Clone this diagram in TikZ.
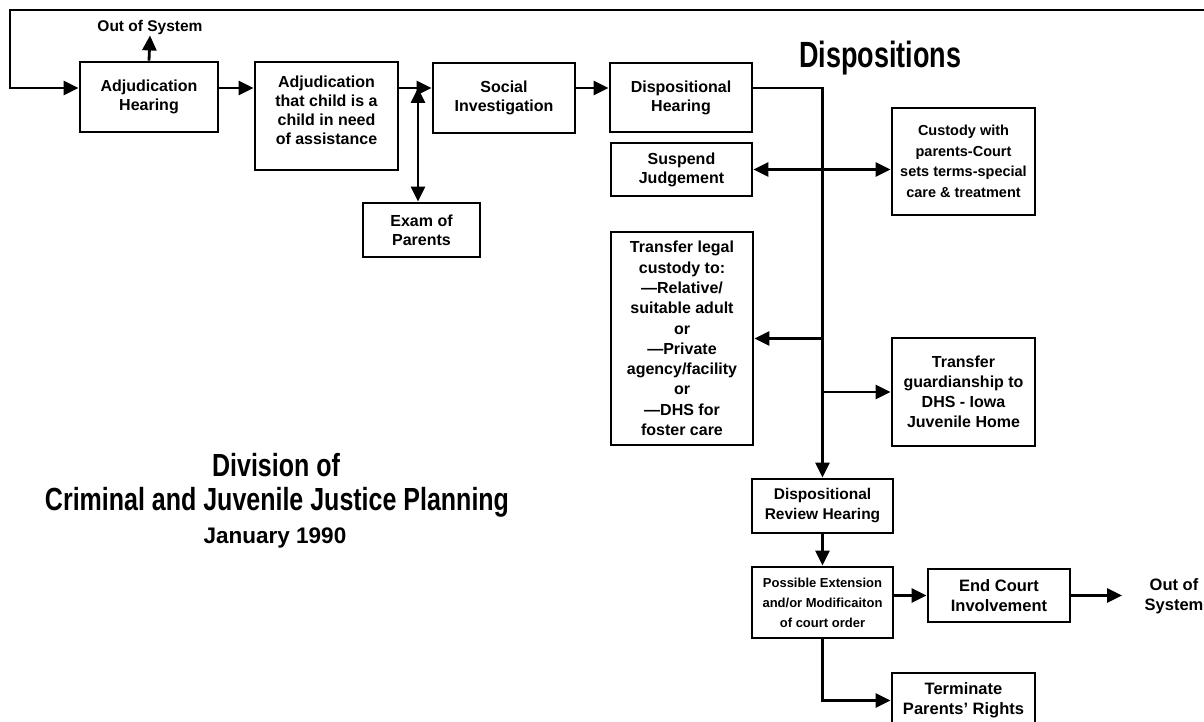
\documentclass[tikz,border=0pt]{standalone}
\usepackage{fontspec}
\usepackage{graphicx}
\setmainfont{Liberation Sans}
\usetikzlibrary{arrows.meta}
\tikzset{
  box/.style={draw, line width=2.8pt, align=center, inner sep=0pt,
    font=\bfseries\fontsize{16}{19}\selectfont},
  conn/.style={line width=2.8pt, -{Triangle[length=15pt,width=14pt]}},
  dconn/.style={line width=2.8pt, {Triangle[length=15pt,width=14pt]}-{Triangle[length=15pt,width=14pt]}},
  lbl/.style={align=center, inner sep=1pt, font=\bfseries\fontsize{16.5}{20}\selectfont},
}
\begin{document}
\begin{tikzpicture}[x=1pt,y=-1pt]
\useasboundingbox (0,0) rectangle (1204,722);
\begin{scope}
\clip (0,0) rectangle (1204,722);

% boxes
\node[box, minimum width=138pt, minimum height=70pt] (AH) at (149,97) {Adjudication\\Hearing};
\node[box, minimum width=143pt, minimum height=108pt] (A2) at (326.5,116) {Adjudication\\that child is a\\child in need\\of assistance\\[-8pt]};
\node[box, minimum width=117pt, minimum height=54pt] (EX) at (421.5,230) {Exam of\\Parents};
\node[box, minimum width=142pt, minimum height=70pt] (SI) at (504,98) {Social\\Investigation};
\node[box, minimum width=142pt, minimum height=69pt] (DH) at (681,97.5) {Dispositional\\Hearing};
\node[box, minimum width=141pt, minimum height=53pt] (SJ) at (681.5,169.5) {Suspend\\Judgement};
\node[box, minimum width=143pt, minimum height=107pt, font=\bfseries\fontsize{14.5}{20.5}\selectfont] (CU) at (963.5,161.5) {Custody with\\parents-Court\\sets terms-special\\care \& treatment};
\node[box, minimum width=142pt, minimum height=213pt, font=\bfseries\fontsize{16}{20.3}\selectfont] (TL) at (682,338.5) {Transfer legal\\custody to:\\—Relative/\\suitable adult\\or\\—Private\\agency/facility\\or\\—DHS for\\foster care};
\node[box, minimum width=143pt, minimum height=108pt, font=\bfseries\fontsize{16}{20}\selectfont] (TG) at (963.5,392) {Transfer\\guardianship to\\DHS - Iowa\\Juvenile Home};
\node[box, minimum width=141pt, minimum height=54pt, font=\bfseries\fontsize{15.5}{20}\selectfont] (DRH) at (822.5,506) {Dispositional\\Review Hearing};
\node[box, minimum width=141pt, minimum height=71pt, font=\bfseries\fontsize{13}{20}\selectfont] (PE) at (822.5,602.5) {Possible Extension\\and/or Modificaiton\\of court order};
\node[box, minimum width=142pt, minimum height=53pt, font=\bfseries\fontsize{16.5}{20}\selectfont] (ECI) at (999,595.5) {End Court\\Involvement};
\node[box, minimum width=143pt, minimum height=55pt, font=\bfseries\fontsize{16.5}{20}\selectfont] (TPR) at (963.5,700.5) {Terminate\\Parents' Rights};

% labels
\node[lbl, font=\bfseries\fontsize{15.5}{17}\selectfont] (OOS1) at (150,27) {Out of System};
\node[lbl] (OOS2) at (1174,596) {Out of\\System};
\node[inner sep=0pt, font=\bfseries\fontsize{27}{30}\selectfont] (DISP) at (880,58) {\scalebox{1}[1.35]{Dispositions}};
\node[inner sep=0pt, font=\bfseries\fontsize{25}{28}\selectfont] (DIV1) at (276,465) {\scalebox{1}[1.28]{Division of}};
\node[inner sep=0pt, font=\bfseries\fontsize{25}{28}\selectfont] (DIV2) at (277,502) {\scalebox{1}[1.28]{Criminal and Juvenile Justice Planning}};
\node[inner sep=0pt, font=\bfseries\fontsize{22.5}{26}\selectfont] (DATE) at (275,538) {January 1990};

% coordinates
\coordinate (row) at (0,88);
\coordinate (topR) at (1204,10);
\coordinate (topL) at (10,10);
\coordinate (j1) at (418,88);
\coordinate (oosR) at (1122,595.5);

% connectors
\draw[conn] (topR) -- (topL) |- (AH.west |- row);
\draw[conn] (AH.north) -- (OOS1.south);
\draw[conn] (AH.east |- row) -- (A2.west |- row);
\draw[conn] (A2.east |- row) -- (SI.west |- row);
\draw[dconn] (j1) -- (EX.north -| j1);
\draw[conn] (SI.east |- row) -- (DH.west |- row);
\draw[conn] (DH.east |- row) -| (DRH.north);
\draw[conn] (DRH.north |- SJ.east) -- (SJ.east);
\draw[conn] (DRH.north |- SJ.east) -- (CU.west |- SJ.east);
\draw[conn] (TL.east -| DRH.north) -- (TL.east);
\draw[conn] (TG.west -| DRH.north) -- (TG.west);
\draw[conn] (DRH.south) -- (PE.north);
\draw[conn] (PE.east |- ECI.west) -- (ECI.west);
\draw[conn] (ECI.east) -- (oosR);
\draw[conn] (PE.south) |- (TPR.west);
\end{scope}
\end{tikzpicture}
\end{document}
